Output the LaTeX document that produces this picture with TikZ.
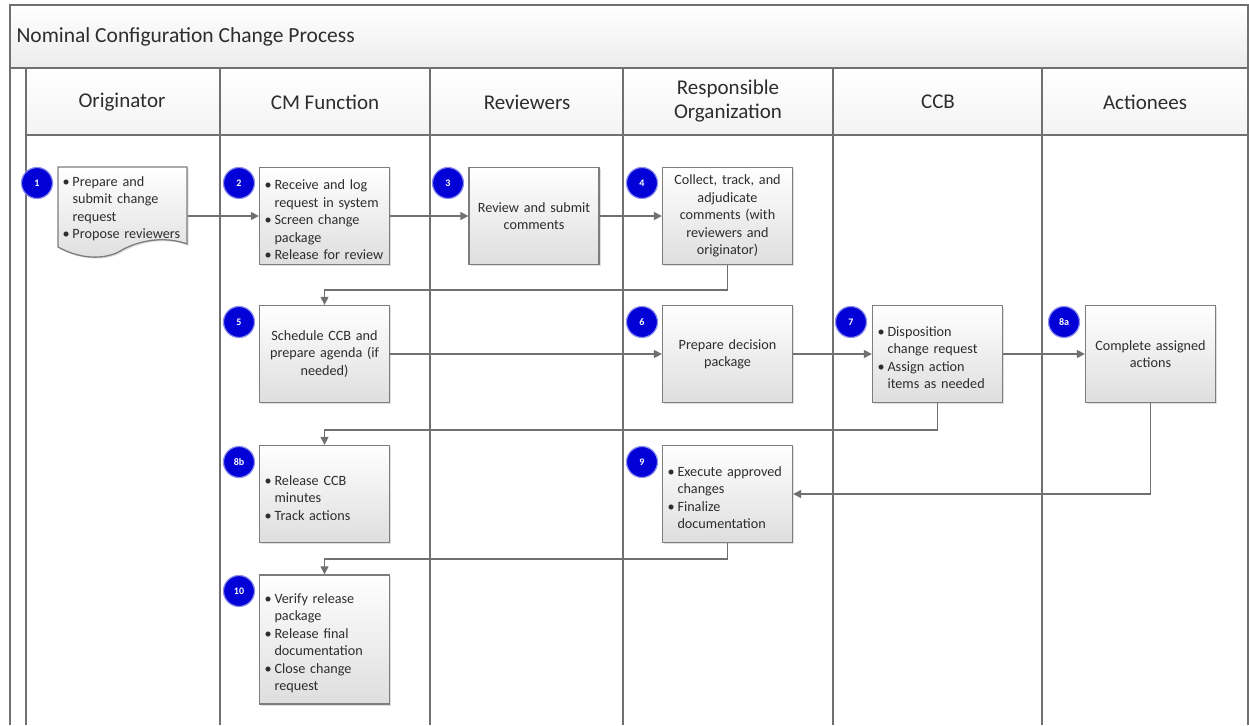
\documentclass[tikz,border=0pt]{standalone}
\usepackage{fontspec}
\setmainfont{Carlito}
\usetikzlibrary{arrows.meta,shadows}
\definecolor{linegray}{RGB}{112,112,112}
\definecolor{boxgray}{RGB}{125,125,125}
\definecolor{boxbot}{RGB}{222,222,222}
\definecolor{numblue}{RGB}{0,0,215}
\definecolor{txtgray}{RGB}{45,45,45}
\definecolor{bandbot}{RGB}{236,236,236}
\newcommand{\bitem}[1]{\par\noindent\hangindent=10pt\hangafter=1\makebox[10pt][l]{\textbullet}{\let\\\newline #1}\par}
\begin{document}
\begin{tikzpicture}[x=1pt,y=-1pt,
  frame/.style={draw=linegray, line width=1.3pt},
  flow/.style={draw=linegray, line width=1.3pt, -{Triangle[length=8pt,width=8pt]}},
  stepbox/.style={draw=boxgray, line width=1.3pt, top color=white, bottom color=boxbot,
     minimum width=130pt, minimum height=97pt, inner xsep=5pt, inner ysep=0pt, text width=120pt,
     text=txtgray, font=\fontsize{14.2}{17.4}\selectfont,
     drop shadow={shadow xshift=1.5pt, shadow yshift=-1.5pt, opacity=0.25}},
  docbox/.style={minimum width=130pt, minimum height=80pt, inner xsep=5pt, inner ysep=0pt, text width=120pt,
     text=txtgray, font=\fontsize{14.2}{17.4}\selectfont, align=left},
  num/.style={circle, fill=numblue, draw=numblue!45!white, line width=1.2pt, minimum size=31pt, inner sep=0pt,
     text=white, font=\bfseries\fontsize{10}{11}\selectfont},
  lanehead/.style={font=\fontsize{21}{24}\selectfont, text=txtgray, align=center}
]
\useasboundingbox (0,0) rectangle (1249,725);
% title band and header row
\shade[top color=white, bottom color=bandbot] (10,5) rectangle (1248,68);
\shade[top color=white, bottom color=bandbot!60!white] (26,68) rectangle (1248,135);
\draw[frame] (10,725) -- (10,5) -- (1248,5) -- (1248,725);
\draw[frame] (10,68) -- (1248,68);
\draw[frame] (26,135) -- (1248,135);
\draw[frame] (26,68) -- (26,725);
\foreach \x in {220,430,623,833,1042} \draw[frame] (\x,68) -- (\x,725);
\node[anchor=west, font=\fontsize{21.5}{24}\selectfont, text=txtgray] (title) at (13,37) {Nominal Configuration Change Process};
\node[lanehead] (h1) at (122,102) {Originator};
\node[lanehead] (h2) at (325,102) {CM Function};
\node[lanehead] (h3) at (527,102) {Reviewers};
\node[lanehead] (h4) at (728,101) {Responsible\\Organization};
\node[lanehead] (h5) at (938,102) {CCB};
\node[lanehead] (h6) at (1145,102) {Actionees};
% document shape for step 1
\fill[gray, opacity=0.25] (59.5,168.5) -- (188.5,168.5) -- (188.5,245.5) .. controls (166.5,237.5) and (141.5,241.5) .. (123.5,251.5) .. controls (111.5,259.5) and (86.5,263.5) .. (59.5,248.5) -- cycle;
\shade[top color=white, bottom color=boxbot] (58,167) -- (187,167) -- (187,244) .. controls (165,236) and (140,240) .. (122,250) .. controls (110,258) and (85,262) .. (58,247) -- cycle;
\draw[draw=boxgray, line width=1.3pt] (58,167) -- (187,167) -- (187,244) .. controls (165,236) and (140,240) .. (122,250) .. controls (110,258) and (85,262) .. (58,247) -- cycle;
\node[docbox] (b1) at (122.5,205) {\bitem{Prepare and\\submit change\\request}\bitem{Propose reviewers}};
% boxes
\node[stepbox, align=left] (b2) at (324.5,216) {\bitem{Receive and log\\request in system}\bitem{Screen change\\package}\bitem{Release for review}};
\node[stepbox, align=center] (b3) at (534,216) {Review and submit\\comments};
\node[stepbox, align=center] (b4) at (727.5,216) {Collect, track, and\\adjudicate\\comments (with\\reviewers and\\originator)};
\node[stepbox, align=center] (b5) at (324.5,354) {Schedule CCB and\\prepare agenda (if\\needed)};
\node[stepbox, align=center] (b6) at (727.5,354) {Prepare decision\\package};
\node[stepbox, align=left] (b7) at (937.5,354) {\bitem{Disposition\\change request}\bitem{Assign action\\items as needed}};
\node[stepbox, align=center] (b8a) at (1150.5,354) {Complete assigned\\actions};
\node[stepbox, align=left] (b8b) at (324.5,494) {\bitem{Release CCB\\minutes}\bitem{Track actions}};
\node[stepbox, align=left] (b9) at (727.5,494) {\bitem{Execute approved\\changes}\bitem{Finalize\\documentation}};
\node[stepbox, align=left, minimum height=129pt] (b10) at (324.5,639.5) {\bitem{Verify release\\package}\bitem{Release final\\documentation}\bitem{Close change\\request}};
% numbers
\node[num] (n1) at (37,183) {1};
\node[num] (n2) at (239,183) {2};
\node[num] (n3) at (448,183) {3};
\node[num] (n4) at (642,183) {4};
\node[num] (n5) at (239,322) {5};
\node[num] (n6) at (642,322) {6};
\node[num] (n7) at (851,322) {7};
\node[num] (n8a) at (1064,322) {8a};
\node[num] (n8b) at (239,462) {8b};
\node[num] (n9) at (642,462) {9};
\node[num] (n10) at (239,591) {10};
% connectors
\draw[flow] (b1.east |- b2.west) -- (b2.west);
\draw[flow] (b2.east) -- (b3.west);
\draw[flow] (b3.east) -- (b4.west);
\draw[flow] (b4.south) -- (b4.south |- 0,290) -| (b5.north);
\draw[flow] (b5.east) -- (b6.west);
\draw[flow] (b6.east) -- (b7.west);
\draw[flow] (b7.east) -- (b8a.west);
\draw[flow] (b7.south) -- (b7.south |- 0,430) -| (b8b.north);
\draw[flow] (b8a.south) |- (b9.east);
\draw[flow] (b9.south) -- (b9.south |- 0,559) -| (b10.north);
\end{tikzpicture}
\end{document}
